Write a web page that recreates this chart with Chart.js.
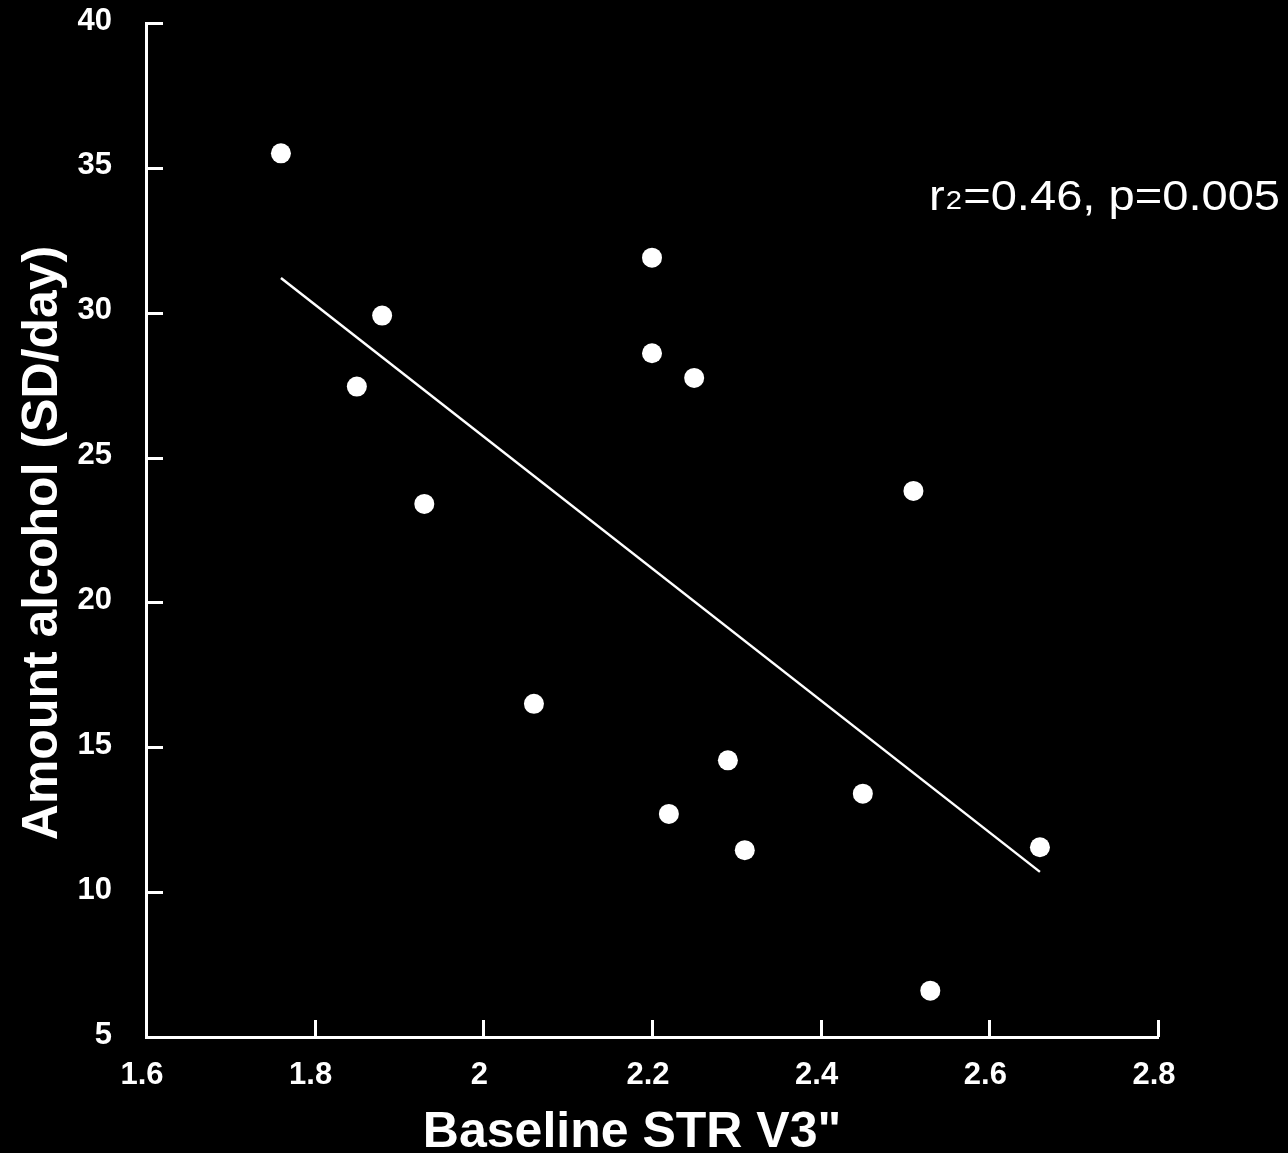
<!DOCTYPE html>
<html>
<head>
<meta charset="utf-8">
<script src="https://cdn.jsdelivr.net/npm/chart.js@4.4.1/dist/chart.umd.min.js"></script>
<style>
  html, body { margin: 0; padding: 0; background: #000; }
  #wrap { width: 1288px; height: 1153px; }
</style>
</head>
<body>
<div id="wrap"><canvas id="chart" width="1288" height="1153"></canvas></div>
<script>
// values
const strV3 = [1.76, 1.88, 1.85, 1.93, 2.06, 2.20, 2.20, 2.25, 2.29, 2.22, 2.31, 2.45, 2.51, 2.53, 2.66];
const alcohol = [35.5, 29.9, 27.45, 23.4, 16.5, 31.9, 28.6, 27.75, 14.55, 12.7, 11.45, 13.4, 23.85, 6.6, 11.55];

// regression line end points
const fitX = [1.76, 2.66];
const fitY = [31.2, 10.7];

const xTickLabels = ['1.6', '1.8', '2', '2.2', '2.4', '2.6', '2.8'];
const yTickLabels = ['5', '10', '15', '20', '25', '30', '35', '40'];

const xTitle = 'Baseline STR V3"';
const yTitle = 'Amount alcohol (SD/day)';
const statParts = ['r', '2', '=0.46, p=0.005'];
const statAt = { x: 2.5285, y: 33.55 };

const FONT = 'Arial, "Liberation Sans", Helvetica, sans-serif';

const scatterPoints = strV3.map((x, i) => ({ x: x, y: alcohol[i] }));
const fitPoints = fitX.map((x, i) => ({ x: x, y: fitY[i] }));

// black page, inward ticks, titles and the r2 note
const decorations = {
  id: 'decorations',
  beforeDraw(chart) {
    const ctx = chart.ctx;
    ctx.save();
    ctx.fillStyle = '#000';
    ctx.fillRect(0, 0, chart.width, chart.height);
    ctx.restore();
  },
  afterDraw(chart) {
    const ctx = chart.ctx;
    const xs = chart.scales.x;
    const ys = chart.scales.y;
    const area = chart.chartArea;
    ctx.save();
    ctx.strokeStyle = '#fff';
    ctx.lineWidth = 3;
    ctx.beginPath();
    xs.ticks.forEach(t => {
      const px = Math.round(xs.getPixelForValue(t.value)) + 0.5;
      ctx.moveTo(px, area.bottom);
      ctx.lineTo(px, area.bottom - 17);
    });
    ys.ticks.forEach(t => {
      const py = Math.round(ys.getPixelForValue(t.value)) + 0.5;
      ctx.moveTo(area.left, py);
      ctx.lineTo(area.left + 17, py);
    });
    ctx.stroke();

    ctx.fillStyle = '#fff';
    ctx.font = 'bold 50px ' + FONT;
    ctx.textAlign = 'center';
    ctx.textBaseline = 'alphabetic';
    ctx.fillText(xTitle, 632, 1147);

    ctx.save();
    ctx.translate(57, 543);
    ctx.rotate(-Math.PI / 2);
    ctx.fillText(yTitle, 0, 0);
    ctx.restore();

    // r2 note, stretched to the width it has in the figure
    const bx = xs.getPixelForValue(statAt.x);
    const by = ys.getPixelForValue(statAt.y);
    ctx.textAlign = 'left';
    ctx.font = '42px ' + FONT;
    const w0 = ctx.measureText(statParts[0]).width;
    const w2 = ctx.measureText(statParts[2]).width;
    ctx.font = '26px ' + FONT;
    const w1 = ctx.measureText(statParts[1]).width;
    const sx = 351 / (w0 + w1 + w2 + 2);
    ctx.translate(bx, by);
    ctx.scale(sx, 1);
    ctx.font = '42px ' + FONT;
    ctx.fillText(statParts[0], 0, 0);
    ctx.font = '26px ' + FONT;
    ctx.fillText(statParts[1], w0 + 1, -1);
    ctx.font = '42px ' + FONT;
    ctx.fillText(statParts[2], w0 + w1 + 2, 0);
    ctx.restore();
  }
};

new Chart(document.getElementById('chart'), {
  type: 'scatter',
  data: {
    datasets: [
      {
        label: 'fit',
        type: 'line',
        data: fitPoints,
        borderColor: '#fff',
        borderWidth: 2.5,
        pointRadius: 0,
        fill: false
      },
      {
        label: 'patients',
        data: scatterPoints,
        backgroundColor: '#fff',
        borderWidth: 0,
        pointRadius: 10,
        pointHoverRadius: 10
      }
    ]
  },
  options: {
    responsive: false,
    devicePixelRatio: 1,
    animation: false,
    events: [],
    layout: { padding: { left: 0, top: 23, right: 130, bottom: 0 } },
    plugins: {
      legend: { display: false },
      tooltip: { enabled: false }
    },
    scales: {
      x: {
        type: 'linear',
        min: 1.6,
        max: 2.8,
        afterFit: s => {
          s.height = 116;
          s.paddingLeft = 0;
          s.paddingRight = 0;
        },
        grid: { display: false, drawTicks: false },
        border: { display: true, color: '#fff', width: 3 },
        ticks: {
          stepSize: 0.2,
          color: '#fff',
          padding: 20,
          labelOffset: -4,
          maxRotation: 0,
          font: { family: FONT, size: 31, weight: 'bold' },
          callback: (v, i) => xTickLabels[i]
        }
      },
      y: {
        type: 'linear',
        min: 5,
        max: 40,
        afterFit: s => {
          s.width = 146;
          s.paddingTop = 0;
          s.paddingBottom = 0;
        },
        grid: { display: false, drawTicks: false },
        border: { display: true, color: '#fff', width: 3 },
        ticks: {
          stepSize: 5,
          color: '#fff',
          padding: 34,
          labelOffset: -2,
          font: { family: FONT, size: 31, weight: 'bold' },
          callback: (v, i) => yTickLabels[i]
        }
      }
    }
  },
  plugins: [decorations]
});
</script>
</body>
</html>
